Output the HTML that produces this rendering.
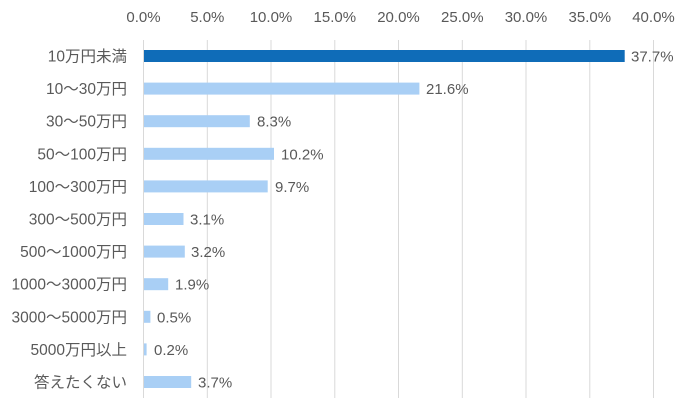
<!DOCTYPE html>
<html><head><meta charset="utf-8"><style>
html,body{margin:0;padding:0;background:#fff;}
svg{display:block;}
text{font-family:"Liberation Sans","Noto Sans CJK JP",sans-serif;fill:#595959;font-size:15px;}
.lb{font-size:15.5px;}
</style></head><body>
<svg width="690" height="413" viewBox="0 0 690 413">
<g stroke="#d9d9d9" stroke-width="1">
<line x1="143.5" y1="40" x2="143.5" y2="398"/>
<line x1="207.3" y1="40" x2="207.3" y2="398"/>
<line x1="271" y1="40" x2="271" y2="398"/>
<line x1="334.8" y1="40" x2="334.8" y2="398"/>
<line x1="398.5" y1="40" x2="398.5" y2="398"/>
<line x1="462.3" y1="40" x2="462.3" y2="398"/>
<line x1="526" y1="40" x2="526" y2="398"/>
<line x1="589.8" y1="40" x2="589.8" y2="398"/>
<line x1="653.5" y1="40" x2="653.5" y2="398"/>
</g>
<g text-anchor="middle">
<text x="143.5" y="22">0.0%</text>
<text x="207.3" y="22">5.0%</text>
<text x="271" y="22">10.0%</text>
<text x="334.8" y="22">15.0%</text>
<text x="398.5" y="22">20.0%</text>
<text x="462.3" y="22">25.0%</text>
<text x="526" y="22">30.0%</text>
<text x="589.8" y="22">35.0%</text>
<text x="653.5" y="22">40.0%</text>
</g>
<rect x="144" y="50" width="480.7" height="12" fill="#0F6CB8"/>
<g fill="#A9CFF5">
<rect x="144" y="82.6" width="275.4" height="12"/>
<rect x="144" y="115.2" width="105.8" height="12"/>
<rect x="144" y="147.8" width="130" height="12"/>
<rect x="144" y="180.4" width="123.7" height="12"/>
<rect x="144" y="213" width="39.5" height="12"/>
<rect x="144" y="245.6" width="40.8" height="12"/>
<rect x="144" y="278.2" width="24.2" height="12"/>
<rect x="144" y="310.8" width="6.4" height="12"/>
<rect x="144" y="343.4" width="2.6" height="12"/>
<rect x="144" y="376" width="47.2" height="12"/>
</g>
<g>
<text x="631" y="61.5">37.7%</text>
<text x="426" y="94">21.6%</text>
<text x="257" y="126.7">8.3%</text>
<text x="281" y="159.3">10.2%</text>
<text x="275" y="191.9">9.7%</text>
<text x="190" y="224.5">3.1%</text>
<text x="191" y="257.1">3.2%</text>
<text x="175" y="289.7">1.9%</text>
<text x="157" y="322.3">0.5%</text>
<text x="154" y="354.9">0.2%</text>
<text x="198" y="387.5">3.7%</text>
</g>
<g text-anchor="end" class="lb">
<text class="lb" x="127" y="61.5">10万円未満</text>
<text class="lb" x="127" y="94">10～30万円</text>
<text class="lb" x="127" y="126.7">30～50万円</text>
<text class="lb" x="127" y="159.3">50～100万円</text>
<text class="lb" x="127" y="191.9">100～300万円</text>
<text class="lb" x="127" y="224.5">300～500万円</text>
<text class="lb" x="127" y="257.1">500～1000万円</text>
<text class="lb" x="127" y="289.7">1000～3000万円</text>
<text class="lb" x="127" y="322.3">3000～5000万円</text>
<text class="lb" x="127" y="354.9">5000万円以上</text>
<text class="lb" x="127" y="387.5">答えたくない</text>
</g>
</svg>
</body></html>
